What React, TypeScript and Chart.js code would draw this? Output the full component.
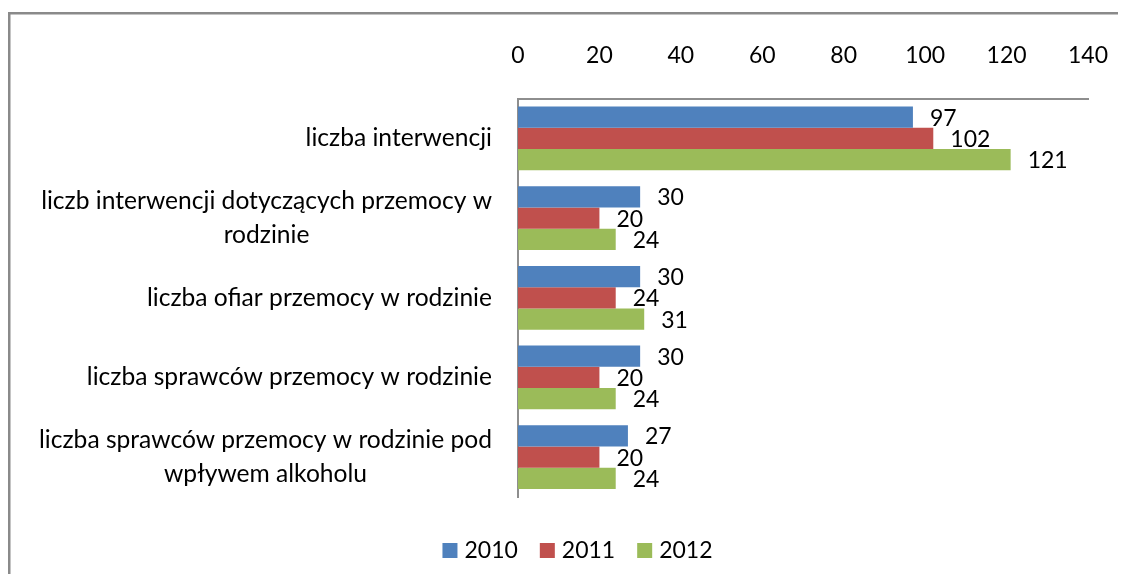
import React, { useEffect, useRef } from "react";
import { Chart, registerables } from "chart.js";

Chart.register(...registerables);

const categories: string[][] = [
  ["liczba interwencji"],
  ["liczb interwencji dotyczących przemocy w", "rodzinie"],
  ["liczba ofiar przemocy w rodzinie"],
  ["liczba sprawców przemocy w rodzinie"],
  ["liczba sprawców przemocy w rodzinie pod", "wpływem alkoholu"],
];
const seriesNames = ["2010", "2011", "2012"];
const values2010 = [97, 30, 30, 30, 27];
const values2011 = [102, 20, 24, 20, 20];
const values2012 = [121, 24, 31, 24, 24];
const seriesColors = ["#4F81BD", "#C0504D", "#9BBB59"];
const xTicks = [0, 20, 40, 60, 80, 100, 120, 140];

const FONT_FAMILY = "Lato, 'Open Sans', sans-serif";
const NUM_SIZE = 23;
const TEXT_SIZE = 24.6;
const NUM_FONT = `${NUM_SIZE}px ${FONT_FAMILY}`;
const TEXT_FONT = `${TEXT_SIZE}px ${FONT_FAMILY}`;
const AXIS_COLOR = "#8e8e8e";
const CANVAS_W = 1118;
const CANVAS_H = 566;

const framePlugin = {
  id: "frame",
  beforeDraw(chart: any) {
    const ctx = chart.ctx;
    ctx.save();
    ctx.fillStyle = "#ffffff";
    ctx.fillRect(0, 0, chart.width, chart.height);
    ctx.fillStyle = "#8a8a8a";
    ctx.fillRect(0, 4, 2.5, chart.height - 4);
    ctx.fillRect(0, 4, chart.width, 2.5);
    ctx.restore();
  },
};

const categoryLabelPlugin = {
  id: "categoryLabels",
  afterDraw(chart: any) {
    const ctx = chart.ctx;
    const yScale = chart.scales.y;
    const rightEdge = chart.chartArea.left - 26;
    const lineH = 34;
    ctx.save();
    ctx.font = TEXT_FONT;
    ctx.fillStyle = "#000000";
    ctx.textBaseline = "alphabetic";
    ctx.textAlign = "center";
    categories.forEach((lines, i) => {
      const cy = yScale.getPixelForValue(i);
      const maxW = Math.max(...lines.map((l) => ctx.measureText(l).width));
      const cx = rightEdge - maxW / 2;
      const n = lines.length;
      lines.forEach((line, k) => {
        const by = cy + 8 + (k - (n - 1) / 2) * lineH;
        ctx.fillText(line, cx, by);
      });
    });
    ctx.restore();
  },
};

const valueLabelPlugin = {
  id: "valueLabels",
  afterDatasetsDraw(chart: any) {
    const ctx = chart.ctx;
    ctx.save();
    ctx.font = NUM_FONT;
    ctx.fillStyle = "#000000";
    ctx.textBaseline = "alphabetic";
    ctx.textAlign = "left";
    chart.data.datasets.forEach((ds: any, di: number) => {
      const meta = chart.getDatasetMeta(di);
      meta.data.forEach((el: any, i: number) => {
        ctx.fillText(String(ds.data[i]), el.x + 17, el.y + 8.5);
      });
    });
    ctx.restore();
  },
};

const legendPlugin = {
  id: "customLegend",
  afterDraw(chart: any) {
    const ctx = chart.ctx;
    const box = 15;
    const boxGap = 7;
    const itemGap = 22;
    ctx.save();
    ctx.font = NUM_FONT;
    const widths = chart.data.datasets.map(
      (ds: any) => box + boxGap + ctx.measureText(ds.label).width
    );
    const total =
      widths.reduce((a: number, b: number) => a + b, 0) +
      itemGap * (widths.length - 1);
    let x = 569.5 - total / 2;
    const boxTop = 535;
    const baseline = 550;
    chart.data.datasets.forEach((ds: any, i: number) => {
      ctx.fillStyle = ds.backgroundColor;
      ctx.fillRect(x, boxTop, box, box);
      ctx.fillStyle = "#000000";
      ctx.textAlign = "left";
      ctx.textBaseline = "alphabetic";
      ctx.fillText(ds.label, x + box + boxGap, baseline);
      x += widths[i] + itemGap;
    });
    ctx.restore();
  },
};

export default function App() {
  const canvasRef = useRef<HTMLCanvasElement | null>(null);

  useEffect(() => {
    const canvas = canvasRef.current;
    if (!canvas) return;
    document.documentElement.style.overflow = "hidden";
    document.body.style.overflow = "hidden";
    const seriesValues = [values2010, values2011, values2012];
    const chart = new Chart(canvas, {
      type: "bar",
      data: {
        labels: categories,
        datasets: seriesNames.map((name, i) => ({
          label: name,
          data: seriesValues[i],
          backgroundColor: seriesColors[i],
          borderWidth: 0,
          barPercentage: 1,
          categoryPercentage: 0.8,
        })),
      },
      options: {
        responsive: false,
        animation: false,
        indexAxis: "y",
        layout: { padding: { top: 5, right: 38, bottom: 77, left: 0 } },
        plugins: {
          legend: { display: false },
          tooltip: { enabled: false },
        },
        scales: {
          x: {
            position: "top",
            min: 0,
            max: 140,
            afterBuildTicks: (scale: any) => {
              scale.ticks = xTicks.map((v) => ({ value: v }));
            },
            afterFit: (scale: any) => {
              scale.paddingLeft = 0;
              scale.paddingRight = 0;
            },
            grid: { display: false, drawTicks: false },
            border: { display: true, color: AXIS_COLOR, width: 2 },
            ticks: {
              color: "#000000",
              font: { family: FONT_FAMILY, size: NUM_SIZE },
              padding: 29,
              maxRotation: 0,
              autoSkip: false,
            },
          },
          y: {
            grid: { display: false, drawTicks: false },
            border: { display: true, color: AXIS_COLOR, width: 2 },
            ticks: { display: false },
            afterFit: (scale: any) => {
              scale.width = 510;
            },
          },
        },
      },
      plugins: [framePlugin, valueLabelPlugin, categoryLabelPlugin, legendPlugin],
    } as any);

    let alive = true;
    if ((document as any).fonts && (document as any).fonts.load) {
      Promise.all([
        (document as any).fonts.load(NUM_FONT),
        (document as any).fonts.load(TEXT_FONT),
      ]).then(() => {
        if (alive) chart.update();
      });
    }
    return () => {
      alive = false;
      chart.destroy();
    };
  }, []);

  return (
    <div style={{ width: CANVAS_W, height: CANVAS_H }}>
      <canvas
        ref={canvasRef}
        width={CANVAS_W}
        height={CANVAS_H}
        style={{ display: "block", width: CANVAS_W, height: CANVAS_H }}
      />
    </div>
  );
}
